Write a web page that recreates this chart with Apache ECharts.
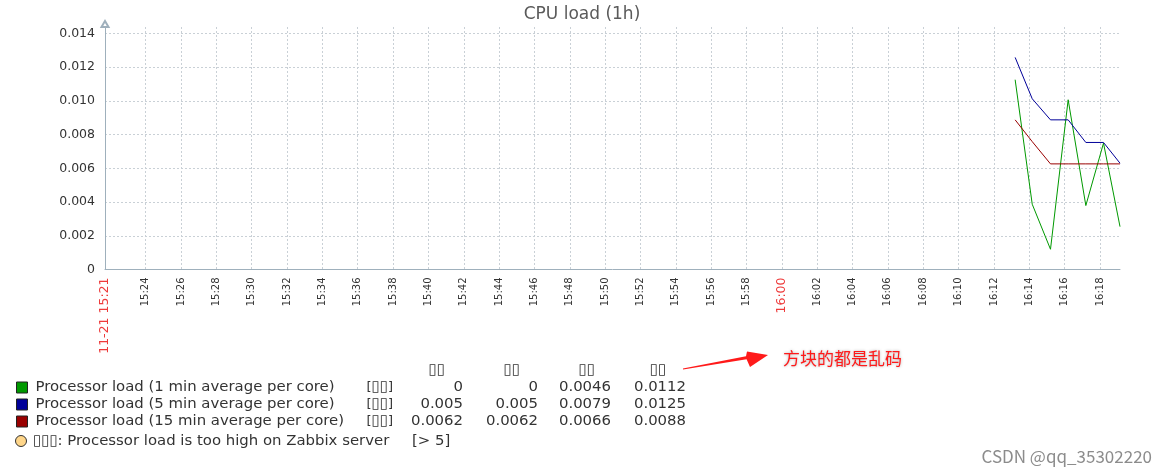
<!DOCTYPE html>
<html>
<head>
<meta charset="utf-8">
<script src="https://cdn.jsdelivr.net/npm/echarts@6/dist/echarts.min.js"></script>
<style>html,body{margin:0;padding:0;background:#fff}#c{width:1164px;height:475px}</style>
</head>
<body>
<div id="c"></div>
<script>
// ---------- data ----------
const chartTitle = 'CPU load (1h)';
const seriesNames = [
  'Processor load (1 min average per core)',
  'Processor load (5 min average per core)',
  'Processor load (15 min average per core)'
];
const seriesColors = ['#009900', '#000099', '#990000'];
const sampleTimes = ['16:13:12', '16:14:10', '16:15:12', '16:16:12', '16:17:12', '16:18:12', '16:19:08'];
const load1 = [0.01125, 0.00387, 0.00120, 0.01006, 0.00379, 0.00749, 0.00254];
const load5 = [0.01257, 0.01012, 0.00887, 0.00887, 0.00753, 0.00753, 0.00630];
const load15 = [0.00887, 0.00758, 0.00626, 0.00626, 0.00626, 0.00626, 0.00626];

const axisStart = '15:21:42';
const axisEnd = '16:19:08';
const xTickTimes = ['15:21:42', '15:24', '15:26', '15:28', '15:30', '15:32', '15:34', '15:36', '15:38', '15:40',
  '15:42', '15:44', '15:46', '15:48', '15:50', '15:52', '15:54', '15:56', '15:58', '16:00',
  '16:02', '16:04', '16:06', '16:08', '16:10', '16:12', '16:14', '16:16', '16:18'];
const xTickLabels = ['11-21 15:21', '15:24', '15:26', '15:28', '15:30', '15:32', '15:34', '15:36', '15:38', '15:40',
  '15:42', '15:44', '15:46', '15:48', '15:50', '15:52', '15:54', '15:56', '15:58', '16:00',
  '16:02', '16:04', '16:06', '16:08', '16:10', '16:12', '16:14', '16:16', '16:18'];
const xRedLabels = ['11-21 15:21', '16:00'];
const yTicks = [0, 0.002, 0.004, 0.006, 0.008, 0.010, 0.012, 0.014];
const yTickLabels = ['0', '0.002', '0.004', '0.006', '0.008', '0.010', '0.012', '0.014'];
const yTop = 0.014373;

const unitLabel = '▯▯';
const statHeaders = ['▯▯', '▯▯', '▯▯', '▯▯'];
const stats1 = ['0', '0', '0.0046', '0.0112'];
const stats5 = ['0.005', '0.005', '0.0079', '0.0125'];
const stats15 = ['0.0062', '0.0062', '0.0066', '0.0088'];
const triggerPrefix = '▯▯▯';
const triggerText = ': Processor load is too high on Zabbix server';
const triggerThreshold = '[> 5]';
const noteText = '方块的都是乱码';
const watermarkText = 'CSDN @qq_35302220';

// ---------- build ----------
const toMin = s => { const p = s.split(':').map(Number); return p[0] * 60 + p[1] + (p[2] || 0) / 60 - 900; };
const xs = sampleTimes.map(toMin);
const xTickVals = xTickTimes.map(toMin);
const pair = arr => arr.map((v, i) => [xs[i], v]);
const allStats = [stats1, stats5, stats15];
const FONT = 'DejaVu Sans';
const FS = 14.9;
const TOFU = { fontFamily: FONT, fontSize: 14.9, fill: '#333', color: '#333' };

const chart = echarts.init(document.getElementById('c'), null, { renderer: 'canvas' });
const gridStyle = { color: '#c9d0d6', width: 1, type: [2, 2] };
const axisLineColor = '#9fb0bc';
const rs = (extra) => Object.assign({ fontFamily: FONT, fontSize: FS, color: '#333', lineHeight: 17 }, extra);

chart.setOption({
  animation: false,
  backgroundColor: '#fff',
  title: {
    text: chartTitle, left: 'center', top: 1,
    textStyle: { fontFamily: FONT, fontSize: 17, fontWeight: 'normal', color: '#5a5a5a' }
  },
  grid: { left: 105, right: 44, top: 27, bottom: 205.5, outerBoundsMode: 'none' },
  xAxis: {
    type: 'value',
    min: toMin(axisStart), max: toMin(axisEnd),
    axisLine: { show: true, lineStyle: { color: axisLineColor, width: 1 } },
    axisTick: { show: false, customValues: xTickVals },
    splitLine: { show: true, lineStyle: gridStyle },
    axisLabel: {
      customValues: xTickVals,
      rotate: 90, margin: 8,
      fontFamily: FONT, fontSize: 10, color: '#333',
      formatter: v => {
        let idx = 0, best = 1e9;
        xTickVals.forEach((t, i) => { const d = Math.abs(t - v); if (d < best) { best = d; idx = i; } });
        const lab = xTickLabels[idx];
        return xRedLabels.includes(lab) ? '{r|' + lab + '}' : lab;
      },
      rich: { r: { color: '#ee3b3b', fontFamily: FONT, fontSize: 12.5 } }
    }
  },
  yAxis: {
    type: 'value', min: 0, max: yTop,
    axisLine: { show: true, lineStyle: { color: axisLineColor, width: 1 }, symbol: ['none', 'emptyTriangle'], symbolSize: [7, 6], symbolOffset: [0, 3] },
    axisTick: { show: false, customValues: yTicks },
    splitLine: { show: true, lineStyle: gridStyle },
    axisLabel: {
      customValues: yTicks, margin: 10,
      fontFamily: FONT, fontSize: 12.5, color: '#333',
      formatter: v => {
        let idx = 0, best = 1e9;
        yTicks.forEach((t, i) => { const d = Math.abs(t - v); if (d < best) { best = d; idx = i; } });
        return yTickLabels[idx];
      }
    }
  },
  legend: {
    orient: 'vertical', left: 16, top: 379, itemGap: 0, padding: 0,
    itemWidth: 11, itemHeight: 11, icon: 'rect',
    itemStyle: { borderColor: '#222', borderWidth: 1 },
    selectedMode: false,
    data: seriesNames,
    formatter: name => {
      const i = seriesNames.indexOf(name);
      const s = allStats[i];
      return '{n|' + name + '}{u|[}{t|' + unitLabel + '}{u|]}{a|' + s[0] + '}{b|' + s[1] + '}{c|' + s[2] + '}{d|' + s[3] + '}';
    },
    textStyle: {
      fontFamily: FONT, fontSize: FS, color: '#333', lineHeight: 17,
      rich: {
        n: rs({ width: 331, padding: [0, 0, 0, 3] }),
        u: rs({ fontSize: 13 }),
        t: rs({ fontSize: 14.9 }),
        a: rs({ width: 70, align: 'right' }),
        b: rs({ width: 75, align: 'right' }),
        c: rs({ width: 73, align: 'right' }),
        d: rs({ width: 75, align: 'right' })
      }
    }
  },
  series: [load1, load5, load15].map((d, i) => ({
    name: seriesNames[i], type: 'line', data: pair(d),
    symbol: 'none', showSymbol: false, color: seriesColors[i],
    lineStyle: { width: 1, color: seriesColors[i] },
    itemStyle: { color: seriesColors[i] },
    clip: true
  })),
  graphic: [
    ...statHeaders.map((h, i) => ({
      type: 'text', x: [436.7, 511.7, 586.7, 658][i], y: 370,
      style: Object.assign({ text: h, align: 'center', verticalAlign: 'middle' }, TOFU)
    })),
    { type: 'circle', shape: { cx: 21, cy: 441, r: 5.5 }, style: { fill: '#ffd68a', stroke: '#333', lineWidth: 1 } },
    { type: 'text', x: 33, y: 441, style: {
      text: '{t|' + triggerPrefix + '}' + triggerText, fontFamily: FONT, fontSize: FS, fill: '#333', verticalAlign: 'middle',
      rich: { t: TOFU } } },
    { type: 'text', x: 412, y: 441, style: { text: triggerThreshold, fontFamily: FONT, fontSize: FS, fill: '#333', verticalAlign: 'middle' } },
    { type: 'polygon', shape: { points: [[683.1, 369.5], [746.6, 359.3], [750, 367], [768, 355], [747, 351.5], [746.0, 356.3], [682.9, 368.5]] },
      style: { fill: '#ff1a1a' } },
    { type: 'text', x: 783, y: 359, style: { text: noteText, fontFamily: 'Noto Sans CJK SC', fontSize: 17, fill: '#ff1a1a', verticalAlign: 'middle',
      textShadowColor: 'rgba(0,0,0,0.35)', textShadowBlur: 3 } },
    { type: 'text', x: 1152, y: 457, style: { text: watermarkText, fontFamily: 'Noto Sans CJK SC', fontSize: 17, fill: '#8c8c8c', align: 'right', verticalAlign: 'middle' } }
  ]
});
</script>
</body>
</html>
